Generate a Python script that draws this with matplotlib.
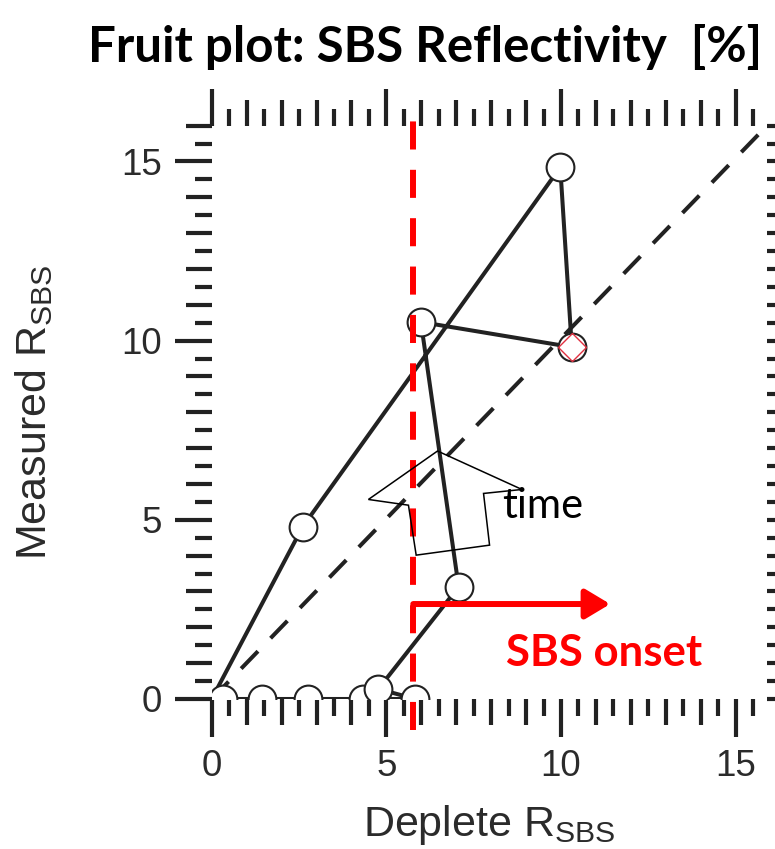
import matplotlib
matplotlib.use('Agg')
import matplotlib.pyplot as plt
from matplotlib.ticker import MultipleLocator
from matplotlib.patches import Polygon

plt.rcParams['font.family'] = ['Liberation Sans', 'DejaVu Sans']

# データ (時間順)
deplete = [0.33, 1.43, 2.77, 4.34, 5.83, 4.77, 7.07, 5.99, 10.31, 9.98, 2.60, 0.0]
measured = [0.0, 0.0, 0.0, 0.0, 0.0, 0.28, 3.13, 10.52, 9.82, 14.84, 4.80, 0.0]
marked = list(range(len(deplete) - 1))   # 最後の点(原点)はマーカーなし
diamond_idx = 8
onset_x = 5.77
onset_arrow_end = 11.41
onset_arrow_y = 2.65

# 時間の矢印 (白抜き)
time_arrow_x = [6.465, 8.882, 7.783, 7.955, 5.854, 5.633, 4.487]
time_arrow_y = [6.92, 5.847, 5.736, 4.293, 4.014, 5.408, 5.568]

ink = '#222222'
txt = '#2b2b2b'

fig = plt.figure(figsize=(7.75, 8.49), dpi=100)
ax = fig.add_axes([0.2732, 0.1767, 0.7165, 0.6753])
ax.set_xlim(0, 15.9)
ax.set_ylim(0, 16)

# y=x 破線
ax.plot([0, 1], [0, 1], transform=ax.transAxes, color=ink, lw=2.9,
        dashes=(6, 4.5), zorder=2)

# データ
ax.plot(deplete, measured, color=ink, lw=2.9, marker='o', markersize=20,
        markerfacecolor='white', markeredgecolor=ink, markeredgewidth=1.5,
        markevery=marked, zorder=3)
ax.plot(deplete[diamond_idx], measured[diamond_idx], marker='D', markersize=14,
        markerfacecolor='none', markeredgecolor='#e03040', markeredgewidth=1,
        zorder=4)

# SBS onset
ax.axvline(onset_x, ymin=-0.054, ymax=1.021, color='red', lw=4.3,
           dashes=(4.7, 3.4), clip_on=False, zorder=5)
ax.annotate('', xy=(onset_arrow_end, onset_arrow_y), xytext=(onset_x, onset_arrow_y),
            arrowprops=dict(arrowstyle='-|>,head_length=0.75,head_width=0.45',
                            color='red', lw=4.3, mutation_scale=20,
                            shrinkA=0, shrinkB=0), zorder=5)
ax.text(11.24, 0.93, 'SBS onset', color='red', fontsize=31.5, fontweight='bold',
        family=['Lato', 'DejaVu Sans'], ha='center', va='baseline')

ax.add_patch(Polygon(list(zip(time_arrow_x, time_arrow_y)), closed=True,
                     facecolor='none', edgecolor='black', lw=1.1, zorder=6))
ax.text(8.31, 5.04, 'time', color='black', fontsize=30,
        family=['Lato', 'DejaVu Sans'], ha='left', va='baseline')

# 軸 (枠線なし、外向きの目盛り)
for s in ax.spines.values():
    s.set_visible(False)
for axis in (ax.xaxis, ax.yaxis):
    axis.set_major_locator(MultipleLocator(5))
    axis.set_minor_locator(MultipleLocator(0.5))
ax.tick_params(which='major', direction='out', length=27, width=3, color=ink,
               top=True, right=True, labelsize=26.5, labelcolor=txt, pad=9)
ax.tick_params(which='minor', direction='out', length=12, width=3, color=ink,
               top=True, right=True)

ax.set_xlabel(r'Deplete R$_{\mathregular{SBS}}$', fontsize=31, color=txt)
ax.set_ylabel(r'Measured R$_{\mathregular{SBS}}$', fontsize=31, color=txt)
ax.xaxis.set_label_coords(0.5, -0.182)
ax.yaxis.set_label_coords(-0.282, 0.5)

fig.text(0.548, 1 - 62 / 849, 'Fruit plot: SBS Reflectivity  [%]', fontsize=35.5,
         fontweight='bold', family=['Lato', 'DejaVu Sans'], ha='center',
         va='baseline')

# 整数の位置の目盛りは少し長く
fig.canvas.draw()
for axis in (ax.xaxis, ax.yaxis):
    locs = axis.get_minorticklocs()
    for loc, t in zip(locs, axis.get_minor_ticks(len(locs))):
        if abs(loc - round(loc)) < 1e-6:
            t.tick1line.set_markersize(19)
            t.tick2line.set_markersize(19)

plt.savefig('out.png', dpi=100)
